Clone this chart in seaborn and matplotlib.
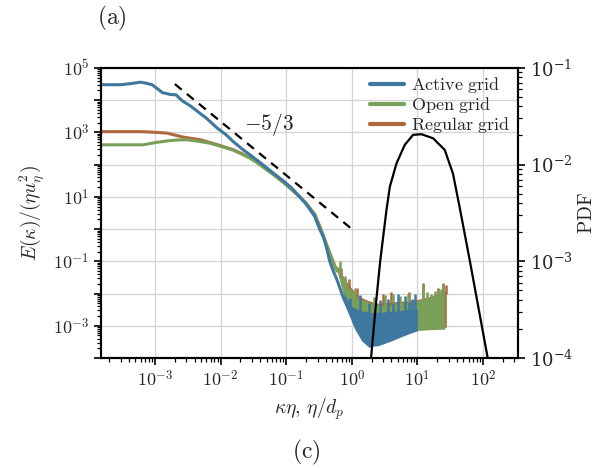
import numpy as np
import pandas as pd
import matplotlib
matplotlib.use("Agg")
import matplotlib.pyplot as plt
import matplotlib.ticker as mticker
from matplotlib.lines import Line2D
import seaborn as sns

sns.set_style("ticks", {"axes.grid": True})
plt.rcParams['mathtext.fontset'] = 'cm'
plt.rcParams['font.family'] = ['DejaVu Serif']

c_act = "#3e78a0"
c_open = "#7a9f58"
c_reg = "#b0693c"

# ---- spectra, smooth part (k*eta, E/(eta u^2)) ----
k_act = [1.5e-4, 3e-4, 4.5e-4, 6e-4, 7.5e-4, 9e-4, 1.1e-3, 1.3e-3, 1.7e-3, 2.1e-3, 2.4e-3, 2.7e-3,
         3.5e-3, 4.9e-3, 6e-3, 8.7e-3, 1.2e-2, 1.55e-2, 2.1e-2, 2.8e-2, 3.8e-2, 5e-2, 6.5e-2, 8.9e-2,
         0.12, 0.16, 0.2, 0.27, 0.33, 0.37, 0.42, 0.46, 0.51, 0.6, 0.73, 0.93, 1.18, 1.5, 1.9]
E_act = [3e4, 3e4, 3.3e4, 3.6e4, 3.3e4, 3e4, 2.2e4, 1.7e4, 1.5e4, 1.45e4, 1.1e4, 9e3,
         6.5e3, 3.8e3, 2.8e3, 1.4e3, 8.5e2, 5.2e2, 3.1e2, 2e2, 1.25e2, 80, 52, 32,
         19, 10, 6, 2.5, 0.9, 0.55, 0.22, 0.1, 0.056, 0.025, 8e-3, 2.6e-3, 8e-4, 3.5e-4, 2.3e-4]

k_open = [1.5e-4, 3e-4, 6.5e-4, 1e-3, 1.5e-3, 2.2e-3, 3e-3, 4.5e-3, 6.9e-3, 1e-2, 1.55e-2, 2.1e-2,
          2.8e-2, 3.8e-2, 5e-2, 6.5e-2, 8.9e-2, 0.12, 0.16, 0.2, 0.27, 0.33, 0.4, 0.46, 0.55, 0.6]
E_open = [4.1e2, 4.1e2, 4.1e2, 4.8e2, 5.4e2, 5.8e2, 5.9e2, 5.3e2, 4.6e2, 3.7e2, 2.8e2, 2.1e2,
          1.6e2, 1.05e2, 70, 47, 29, 17, 10, 6.3, 2.9, 1.1, 0.38, 0.18, 0.07, 0.05]

k_reg = [1.5e-4, 3e-4, 6e-4, 8.5e-4, 1.5e-3, 2.7e-3, 4.9e-3, 8.7e-3, 1.55e-2, 2.1e-2, 2.8e-2,
         3.8e-2, 5e-2, 6.5e-2, 8.9e-2, 0.12, 0.16, 0.2, 0.27, 0.33, 0.4, 0.46, 0.55, 0.6]
E_reg = [1.05e3, 1.05e3, 1.05e3, 1.02e3, 9.5e2, 7.1e2, 5.9e2, 4.2e2, 2.9e2, 2.2e2, 1.6e2,
         1.1e2, 72, 48, 29, 17, 10, 6.3, 2.9, 1.1, 0.38, 0.18, 0.07, 0.05]

# ---- noisy high-wavenumber bands: x, lower edge, upper edge ----
band_act_k = [0.75, 1.0, 1.3, 1.9, 2.5, 4.0, 6.0, 8.0, 10.0]
band_act_lo = [7e-3, 1.5e-3, 5e-4, 2.3e-4, 2.4e-4, 3.4e-4, 4.8e-4, 6e-4, 7e-4]
band_act_hi = [1e-2, 4e-3, 3e-3, 2.6e-3, 2.6e-3, 2.8e-3, 3e-3, 3.2e-3, 3.3e-3]
spk_act_k = [0.95, 1.32, 1.8, 2.67, 3.5, 4.2, 5.0, 6.4, 7.3, 8.2, 9.3]
spk_act_hi = [7.5e-3, 9e-3, 5e-3, 6.5e-3, 7e-3, 5e-3, 9.5e-3, 8.5e-3, 5.5e-3, 7e-3, 9.5e-3]

band_open_k = [0.6, 0.7, 0.85, 1.0, 1.3, 1.8, 2.5, 4.0, 7.0, 10.0, 15.0, 20.0, 26.0]
band_open_lo = [0.05, 0.015, 4e-3, 1.5e-3, 7e-4, 5.5e-4, 5e-4, 5.5e-4, 6.5e-4, 7.2e-4, 7.5e-4, 7.7e-4, 7.8e-4]
band_open_hi = [0.07, 0.035, 0.02, 1.2e-2, 7e-3, 5.5e-3, 4.5e-3, 5e-3, 5.5e-3, 6e-3, 7.5e-3, 9e-3, 1.1e-2]
spk_open_k = [0.66, 0.78, 1.1, 2.2, 3.2, 4.2, 5.5, 7.2, 12.2, 14.0, 16.3, 18.5, 20.6, 22.5, 24.6]
spk_open_hi = [0.1, 3.5e-2, 1.5e-2, 8e-3, 9e-3, 1e-2, 8.5e-3, 1e-2, 1.8e-2, 1.1e-2, 9.5e-3, 1.2e-2, 1.3e-2, 1.4e-2, 2e-2]

band_reg_k = [0.6, 0.7, 0.85, 1.0, 1.3, 1.8, 2.5, 4.0, 7.0, 10.0, 15.0, 20.0, 27.5]
band_reg_lo = [0.05, 0.015, 4e-3, 1.5e-3, 7e-4, 5.5e-4, 5e-4, 5.5e-4, 6.5e-4, 7.5e-4, 8e-4, 8.5e-4, 9e-4]
band_reg_hi = [0.075, 0.04, 0.022, 1.4e-2, 8e-3, 6e-3, 5e-3, 5.5e-3, 6e-3, 6.5e-3, 8e-3, 1e-2, 1.2e-2]
spk_reg_k = [0.68, 0.9, 1.2, 3.0, 4.0, 7.5, 12.3, 20.8, 24.8, 27.2]
spk_reg_hi = [6e-2, 2.8e-2, 1.5e-2, 1e-2, 1.1e-2, 1.1e-2, 2.1e-2, 1.45e-2, 2.2e-2, 1.9e-2]

# ---- particle size PDF (eta/d_p) ----
pdf_x = [1.9, 2.36, 2.7, 3.37, 3.79, 4.79, 6.4, 8.57, 11.5, 17.3, 26, 34.7, 44, 63, 125]
pdf_y = [8e-5, 4e-4, 1e-3, 3.4e-3, 5.9e-3, 1.03e-2, 1.6e-2, 2.03e-2, 2.06e-2, 1.87e-2, 1.42e-2, 8.1e-3, 3.6e-3, 1e-3, 8e-5]

# -5/3 reference slope
ref_k = [2e-3, 1.0]

xtick_vals = [1e-3, 1e-2, 1e-1, 1e0, 1e1, 1e2]
ytick_vals = [1e-4, 1e-3, 1e-2, 1e-1, 1e0, 1e1, 1e2, 1e3, 1e4, 1e5]

fig = plt.figure(figsize=(6.06, 4.68), dpi=100)
ax = fig.add_axes([0.1667, 0.235, 0.688, 0.62])

series = [("Regular grid", k_reg, E_reg, band_reg_k, band_reg_lo, band_reg_hi, spk_reg_k, spk_reg_hi, c_reg),
          ("Open grid", k_open, E_open, band_open_k, band_open_lo, band_open_hi, spk_open_k, spk_open_hi, c_open),
          ("Active grid", k_act, E_act, band_act_k, band_act_lo, band_act_hi, spk_act_k, spk_act_hi, c_act)]

for name, k, E, bk, blo, bhi, sk, shi, col in series:
    sns.lineplot(x=k, y=E, ax=ax, color=col, lw=2.2, sort=False, estimator=None)
    ax.fill_between(bk, blo, bhi, color=col, lw=0)
    base = np.interp(np.log(sk), np.log(bk), np.log(bhi))
    ax.vlines(sk, np.exp(base) * 0.8, shi, color=col, lw=1.8)

ref_E = [x ** (-5 / 3) for x in ref_k]
sns.lineplot(x=ref_k, y=ref_E, ax=ax, color="k", lw=1.6, linestyle=(0, (4, 3)))
ax.text(5.5e-2, 1.7e3, r"$-5/3$", fontsize=15.5, ha="center", va="center")

ax.set_xscale("log")
ax.set_yscale("log")
ax.set_xticks(xtick_vals)
ax.set_yticks(ytick_vals)
ax.yaxis.set_minor_locator(mticker.LogLocator(base=10, subs=np.arange(2, 10), numticks=20))
ax.xaxis.set_minor_locator(mticker.LogLocator(base=10, subs=np.arange(2, 10), numticks=20))
ax.set_xticklabels([r"$10^{%d}$" % round(np.log10(v)) for v in xtick_vals])
ax.set_yticklabels([r"$10^{%d}$" % round(np.log10(v)) if round(np.log10(v)) % 2 == 1 else ""
                    for v in ytick_vals])
ax.set_xlim(1.5e-4, 340)
ax.set_ylim(1e-4, 1e5)

ax.set_xlabel(r"$\kappa\eta,\,\eta/d_p$", fontsize=14)
ax.set_ylabel(r"$E(\kappa)/(\eta u_\eta^2)$", fontsize=14)

ax2 = ax.twinx()
sns.lineplot(x=pdf_x, y=pdf_y, ax=ax2, color="k", lw=1.6, sort=False, estimator=None)
ax2.set_yscale("log")
ax2.set_ylim(1e-4, 1e-1)
ax2.set_ylabel(r"$\mathrm{PDF}$", fontsize=14)
ax2.grid(False)

for a in (ax, ax2):
    a.tick_params(which="major", length=5, width=1.2, labelsize=13, direction="out", color="k")
    a.tick_params(which="minor", length=3, width=0.9, direction="out", color="k")
    for s in a.spines.values():
        s.set_color("k")
        s.set_linewidth(1.5)
ax.grid(True, which="major", color="#d4d4d4", lw=0.9)

handles = [Line2D([], [], color=c_act, lw=3), Line2D([], [], color=c_open, lw=3),
           Line2D([], [], color=c_reg, lw=3)]
labels = [r"$\mathrm{Active\ grid}$", r"$\mathrm{Open\ grid}$", r"$\mathrm{Regular\ grid}$"]
ax2.legend(handles, labels, loc="upper right", frameon=False, fontsize=13,
           handlelength=1.9, handletextpad=0.4, labelspacing=0.0, borderaxespad=0.0)

fig.text(0.16, 0.96, r"$\mathrm{(a)}$", fontsize=17, ha="left", va="center")
fig.text(0.505, 0.034, r"$\mathrm{(c)}$", fontsize=17, ha="center", va="center")

fig.savefig("out.png", dpi=100)
